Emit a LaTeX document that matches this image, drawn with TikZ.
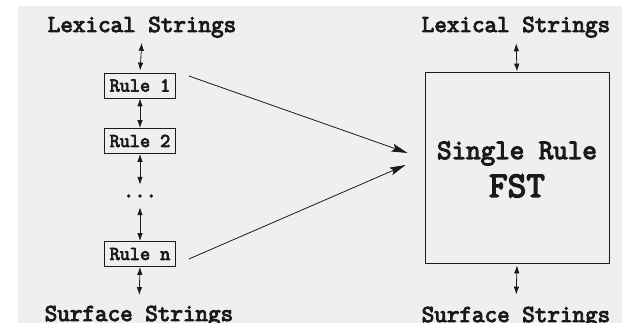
\documentclass[tikz,border=0pt]{standalone}
\usepackage{fontspec}
\newfontfamily\cour{Latin Modern Mono}[FakeBold=4]
\usetikzlibrary{arrows.meta,calc}
\definecolor{bgcol}{HTML}{EFEFEF}
\definecolor{ink}{HTML}{1A1A1A}
\tikzset{
  lbl/.style={inner sep=0pt, text=ink, font=\cour\fontsize{24.4}{28}\selectfont},
  rulebox/.style={draw=ink, line width=0.8pt, minimum width=71pt, minimum height=25pt, inner sep=0pt, text=ink, font=\cour\fontsize{19.6}{22}\selectfont},
  fstbox/.style={draw=ink, line width=0.8pt, minimum width=184pt, minimum height=191pt, inner sep=0pt},
  dbl/.style={line width=0.8pt, draw=ink, {Latex[length=8pt,width=5.5pt]}-{Latex[length=8pt,width=5.5pt]}},
  bigarrow/.style={line width=0.8pt, draw=ink, -{Stealth[length=16pt,width=8pt,inset=3pt]}}
}
\begin{document}
\begin{tikzpicture}[x=1pt,y=-1pt]
\useasboundingbox (0,0) rectangle (622,323);
\fill[white] (0,0) rectangle (622,323);
\fill[bgcol] (18,6) rectangle (622,323);
% left column
\node[lbl, anchor=base] (lexL) at (142,32) {Lexical Strings};
\node[rulebox] (r1) at (140,85.5) {Rule 1};
\node[rulebox] (r2) at (140,141) {Rule 2};
\node[inner sep=0pt, minimum height=22pt, text=ink, font=\cour\fontsize{22}{24}\selectfont] (dots) at (140,196) {...};
\node[rulebox] (rn) at (140,254) {Rule n};
\node[lbl, anchor=base] (surfL) at (139,321) {Surface Strings};
\draw[dbl, shorten <=5pt, shorten >=2pt] (lexL.south) -- (r1.north);
\draw[dbl] (r1.south) -- (r2.north);
\draw[dbl] (r2.south) -- (dots.north);
\draw[dbl] (dots.south) -- (rn.north);
\draw[dbl, shorten >=10.5pt] (rn.south) -- (surfL.north);
% right column
\node[lbl, anchor=base] (lexR) at (516,32) {Lexical Strings};
\node[fstbox] (fst) at (517,167.5) {};
\node[inner sep=0pt, anchor=base, text=ink, font=\cour\fontsize{28.2}{32}\selectfont] (single) at (517,159) {Single Rule};
\node[inner sep=0pt, anchor=base, text=ink, font=\cour\fontsize{36.2}{40}\selectfont] (fsttext) at (517,197) {FST};
\node[lbl, anchor=base] (surfR) at (516,322) {Surface Strings};
\draw[dbl, shorten <=5.5pt] (lexR.south) -- (fst.north);
\draw[dbl, shorten <=2pt, shorten >=12pt] (fst.south) -- (surfR.north);
% converging arrows
\coordinate (s1) at ($(r1.east)+(13,-9.5)$);
\coordinate (t1) at ($(fst.west)+(-17,-14.5)$);
\coordinate (s2) at ($(rn.east)+(13,5)$);
\coordinate (t2) at ($(fst.west)+(-19,-2.5)$);
\draw[bigarrow] (s1) -- (t1);
\draw[bigarrow] (s2) -- (t2);
\end{tikzpicture}
\end{document}
